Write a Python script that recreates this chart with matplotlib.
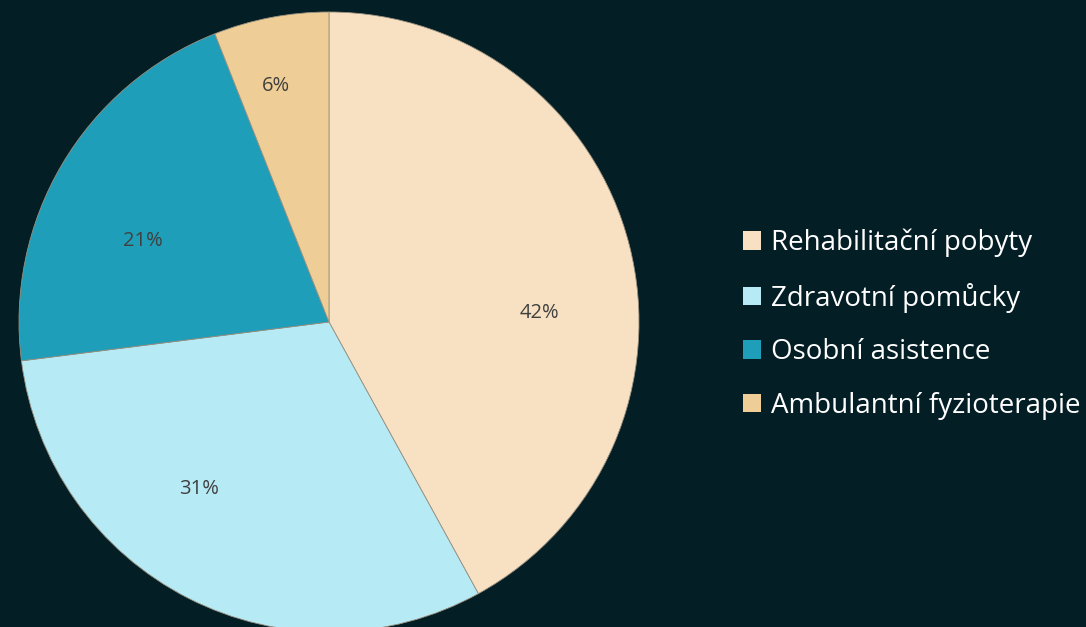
import matplotlib.pyplot as plt
from matplotlib.patches import Patch

plt.rcParams['font.family'] = ['Open Sans', 'DejaVu Sans']

categories = ['Rehabilitační pobyty', 'Zdravotní pomůcky', 'Osobní asistence', 'Ambulantní fyzioterapie']
shares = [42, 31, 21, 6]
colors = ['#F7E1C2', '#B6EAF4', '#1E9EB8', '#EECE96']
bg = '#031E24'

# label spots (axis units, like Excel puts them)
label_pos = [(0.68, 0.03), (-0.42, -0.54), (-0.60, 0.26), (-0.17, 0.76)]

fig = plt.figure(figsize=(10.86, 6.27), dpi=100, facecolor=bg)
ax = fig.add_axes([19 / 1086, -5 / 627, 620 / 1086, 620 / 627])
ax.set_facecolor(bg)

wedges, texts, autotexts = ax.pie(shares, colors=colors, startangle=90, counterclock=False,
                                  autopct='%1.0f%%', radius=1,
                                  wedgeprops=dict(edgecolor='#9a9080', linewidth=0.6),
                                  textprops=dict(color='#404040', fontsize=14.5))
for t, p in zip(autotexts, label_pos):
    t.set_position(p)
ax.set_xlim(-1, 1)
ax.set_ylim(-1, 1)
ax.set_aspect('equal')
ax.axis('off')

handles = [Patch(facecolor=c, edgecolor='none') for c in colors]
leg = fig.legend(handles, categories, loc='center left', bbox_to_anchor=(0.661, 0.483),
                 frameon=False, fontsize=20, labelcolor='white',
                 handlelength=0.65, handleheight=0.65, handletextpad=0.35, labelspacing=0.92)

fig.savefig('out.png', dpi=100, facecolor=bg)
